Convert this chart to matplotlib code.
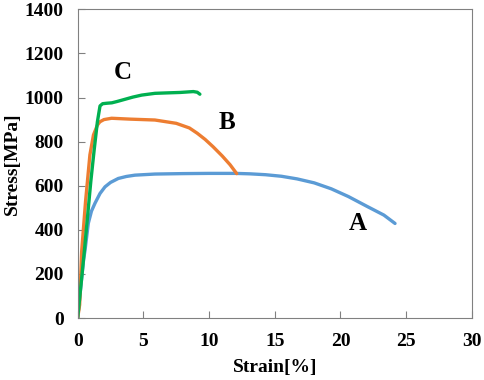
import matplotlib.pyplot as plt

# Curvas tension-deformacion
strain_a = [0, 0.2, 0.45, 0.56, 0.81, 1.05, 1.32, 1.7, 2.08, 2.5, 3.09, 3.7, 4.36, 5.88,
            8, 10, 12, 13.1, 14.3, 15.5, 16.7, 18.0, 19.3, 20.6, 22, 23.3, 24.15]
stress_a = [0, 120, 265, 308, 430, 485, 521, 565, 595, 615, 633, 642, 648, 653,
            655, 656, 656, 654, 650, 643, 631, 613, 586, 551, 507, 467, 429]

strain_b = [0, 0.15, 0.3, 0.6, 0.93, 1.2, 1.5, 1.69, 2.0, 2.58, 4, 5.88, 7.5, 8.5, 9.1,
            9.7, 10.3, 11.0, 11.6, 12.1]
stress_b = [0, 60, 300, 530, 740, 830, 875, 890, 900, 906, 902, 898, 883, 862, 838,
            810, 777, 735, 695, 655]

strain_c = [0, 0.5, 1.0, 1.25, 1.5, 1.7, 1.9, 2.2, 2.6, 3.0, 3.6, 4.2, 4.87, 5.88, 6.8,
            7.8, 8.8, 9.1, 9.3]
stress_c = [0, 300, 620, 760, 890, 962, 972, 974, 976, 982, 992, 1002, 1011, 1019, 1021,
            1023, 1027, 1024, 1015]

labels = ["A", "B", "C"]
label_pos = [(21.3, 430), (11.4, 885), (3.4, 1115)]

plt.rcParams['font.family'] = ['Liberation Serif', 'DejaVu Serif']
plt.rcParams['font.weight'] = 'bold'

fig = plt.figure(figsize=(4.84, 3.80), dpi=100)
ax = fig.add_axes([0.1605, 0.163, 0.8145, 0.8125])

ax.plot(strain_a, stress_a, color='#5B9BD5', lw=2.4, solid_capstyle='round')
ax.plot(strain_b, stress_b, color='#ED7D31', lw=2.4, solid_capstyle='round')
ax.plot(strain_c, stress_c, color='#00B050', lw=2.4, solid_capstyle='round')

for lab, (x, y) in zip(labels, label_pos):
    ax.text(x, y, lab, fontsize=18, fontweight='bold', ha='center', va='center')

ax.set_xlim(0, 30)
ax.set_ylim(0, 1400)
ax.set_xticks(range(0, 31, 5))
ax.set_yticks(range(0, 1401, 200))
ax.tick_params(direction='in', length=5, color='#808080', labelsize=14)
ax.tick_params(axis='x', pad=11)
ax.tick_params(axis='y', pad=10)
for s in ax.spines.values():
    s.set_color('#808080')
ax.set_xlabel("Strain[%]", fontsize=14, fontweight='bold', labelpad=6)
ax.set_ylabel("Stress[MPa]", fontsize=14, fontweight='bold', labelpad=3)

plt.savefig("out.png", dpi=100)
